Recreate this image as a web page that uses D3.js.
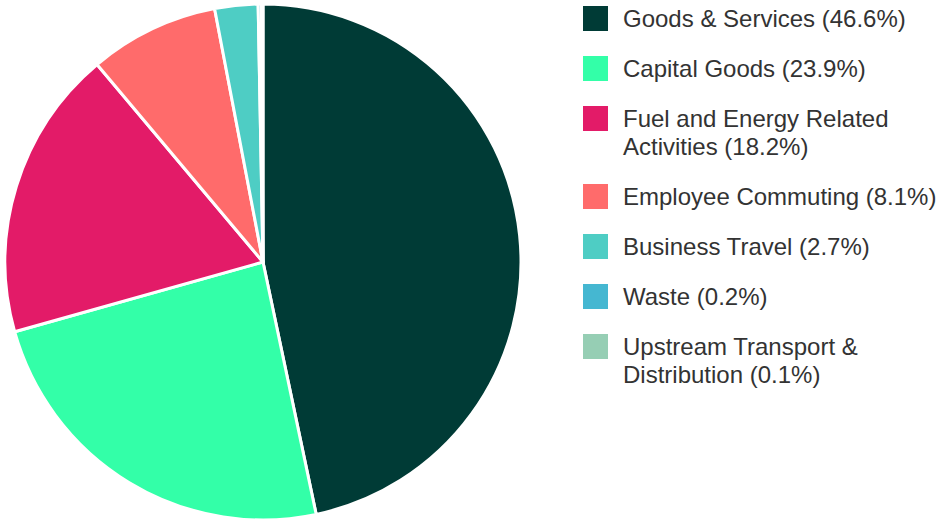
<!DOCTYPE html>
<html>
<head>
<meta charset="utf-8">
<script src="https://cdn.jsdelivr.net/npm/d3@7"></script>
<style>
html,body{margin:0;padding:0;background:#fff;}
svg{display:block;}
</style>
</head>
<body>
<svg id="chart" width="937" height="520"></svg>
<script>
const categories = ["Goods & Services","Capital Goods","Fuel and Energy Related Activities","Employee Commuting","Business Travel","Waste","Upstream Transport & Distribution"];
const values = [46.6, 23.9, 18.2, 8.1, 2.7, 0.2, 0.1];
const colors = ["#003B36","#33FFA8","#E31B68","#FF6B6B","#4ECDC4","#45B7D1","#96CEB4"];

const svg = d3.select("#chart");
const cx = 263, cy = 262, r = 258;

const pie = d3.pie().sort(null).value(d => d.value);
const arc = d3.arc().innerRadius(0).outerRadius(r);
const data = categories.map((c,i)=>({name:c,value:values[i],color:colors[i]}));

svg.append("g").attr("transform",`translate(${cx},${cy})`)
  .selectAll("path").data(pie(data)).join("path")
  .attr("d",arc).attr("fill",d=>d.data.color)
  .attr("stroke","#fff").attr("stroke-width",3).attr("stroke-linejoin","round");

const legend = svg.append("g");
const lx = 583, tx = 623, sq = 25, maxW = 320, lineH = 28, gap = 50;
const fontFamily = "'Liberation Sans', Arial, sans-serif", fontSize = 24;
let y = 6;
data.forEach(d=>{
  const label = `${d.name} (${d.value.toFixed(1)}%)`;
  const g = legend.append("g");
  g.append("rect").attr("x",lx).attr("y",y).attr("width",sq).attr("height",sq).attr("fill",d.color);
  const t = g.append("text").attr("x",tx).attr("y",y+21)
    .attr("font-family",fontFamily).attr("font-size",fontSize).attr("fill","#333");
  const words = label.split(" ");
  let lines = [], cur = [];
  words.forEach(w=>{
    const test = cur.concat([w]).join(" ");
    const tmp = t.append("tspan").text(test);
    const wd = tmp.node().getComputedTextLength();
    tmp.remove();
    if (wd > maxW && cur.length) { lines.push(cur.join(" ")); cur=[w]; }
    else cur.push(w);
  });
  lines.push(cur.join(" "));
  lines.forEach((ln,i)=>{
    t.append("tspan").attr("x",tx).attr("dy", i===0?0:lineH).text(ln);
  });
  y += gap + lineH*(lines.length-1);
});
</script>
</body>
</html>
